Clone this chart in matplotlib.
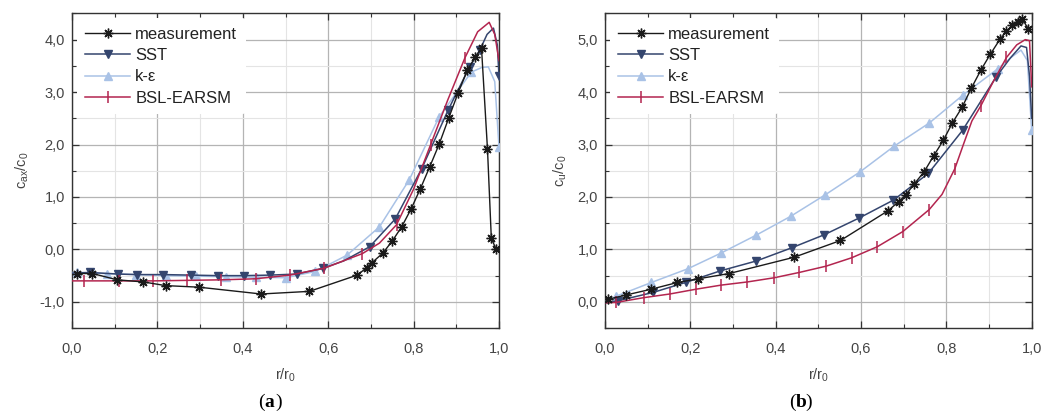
import numpy as np
import matplotlib.pyplot as plt
from matplotlib.ticker import MultipleLocator, FuncFormatter

plt.rcParams['font.family'] = ['Liberation Sans', 'DejaVu Sans']
plt.rcParams['mathtext.fontset'] = 'custom'
plt.rcParams['mathtext.rm'] = 'Liberation Sans'
plt.rcParams['mathtext.it'] = 'Liberation Sans'

######### (a) axial velocity c_ax/c_0
meas_a_x = [0.011, 0.048, 0.106, 0.167, 0.219, 0.297, 0.443, 0.556, 0.668, 0.690, 0.703, 0.728, 0.750,
            0.772, 0.794, 0.816, 0.838, 0.860, 0.882, 0.904, 0.926, 0.944, 0.959, 0.973, 0.982, 0.993]
meas_a_y = [-0.46, -0.46, -0.58, -0.62, -0.69, -0.72, -0.85, -0.80, -0.49, -0.35, -0.25, -0.07, 0.16,
            0.43, 0.77, 1.16, 1.58, 2.01, 2.50, 2.98, 3.42, 3.66, 3.84, 1.91, 0.21, 0.01]

sst_a_x = [0.0, 0.042, 0.108, 0.152, 0.214, 0.279, 0.341, 0.403, 0.464, 0.526, 0.588, 0.636, 0.697,
           0.757, 0.819, 0.881, 0.931, 0.955, 0.972, 0.987, 0.996, 1.0]
sst_a_y = [-0.45, -0.44, -0.47, -0.48, -0.48, -0.49, -0.50, -0.50, -0.49, -0.47, -0.36, -0.22, 0.05,
           0.58, 1.54, 2.66, 3.48, 3.80, 4.10, 4.22, 3.90, 3.30]
sst_a_marks = list(range(1, 11)) + [12, 13, 14, 15, 16, 17, 21]

ke_a_x = [0.0, 0.011, 0.081, 0.151, 0.22, 0.29, 0.36, 0.43, 0.50, 0.57, 0.644, 0.72, 0.79, 0.86,
          0.935, 0.96, 0.975, 0.99, 1.0]
ke_a_y = [-0.44, -0.44, -0.46, -0.48, -0.50, -0.51, -0.52, -0.53, -0.54, -0.42, -0.11, 0.43, 1.33, 2.53,
          3.38, 3.47, 3.48, 3.20, 1.95]
ke_a_marks = list(range(1, 15)) + [18]

bsl_a_x = [0.0, 0.027, 0.11, 0.19, 0.27, 0.35, 0.43, 0.51, 0.59, 0.68, 0.72, 0.76, 0.80, 0.84, 0.88,
           0.92, 0.95, 0.977, 0.99, 1.0]
bsl_a_y = [-0.60, -0.60, -0.60, -0.60, -0.59, -0.58, -0.56, -0.49, -0.36, -0.08, 0.12, 0.47, 1.15, 2.00,
           2.85, 3.65, 4.15, 4.33, 4.10, 3.60]
bsl_a_marks = list(range(1, 10)) + [11, 13, 15]

######### (b) circumferential velocity c_u/c_0
meas_b_x = [0.008, 0.049, 0.108, 0.17, 0.219, 0.291, 0.443, 0.552, 0.664, 0.688, 0.705, 0.725, 0.748,
            0.77, 0.793, 0.814, 0.837, 0.859, 0.881, 0.903, 0.926, 0.941, 0.955, 0.969, 0.978, 0.992]
meas_b_y = [0.05, 0.13, 0.24, 0.37, 0.44, 0.54, 0.85, 1.17, 1.74, 1.91, 2.04, 2.25, 2.48,
            2.78, 3.08, 3.41, 3.71, 4.08, 4.42, 4.72, 5.01, 5.16, 5.28, 5.34, 5.39, 5.21]

sst_b_x = [0.0, 0.03, 0.113, 0.189, 0.270, 0.355, 0.4375, 0.514, 0.596, 0.676, 0.758, 0.838, 0.916,
           0.95, 0.975, 0.988, 0.995, 1.0]
sst_b_y = [-0.02, 0.02, 0.18, 0.37, 0.59, 0.78, 1.03, 1.28, 1.60, 1.94, 2.45, 3.27, 4.28,
           4.65, 4.88, 4.85, 4.30, 3.50]
sst_b_marks = list(range(1, 13))

ke_b_x = [0.0, 0.027, 0.109, 0.194, 0.272, 0.354, 0.435, 0.516, 0.598, 0.678, 0.76, 0.84, 0.92,
          0.955, 0.975, 0.99, 1.0]
ke_b_y = [0.0, 0.11, 0.37, 0.63, 0.93, 1.27, 1.63, 2.04, 2.48, 2.97, 3.41, 3.95, 4.44,
          4.68, 4.80, 4.60, 3.27]
ke_b_marks = list(range(1, 13)) + [16]

bsl_b_x = [0.0, 0.027, 0.091, 0.152, 0.2125, 0.273, 0.334, 0.397, 0.455, 0.518, 0.578, 0.638, 0.698,
           0.76, 0.79, 0.82, 0.84, 0.86, 0.881, 0.91, 0.941, 0.965, 0.985, 0.995, 1.0]
bsl_b_y = [-0.02, -0.01, 0.08, 0.15, 0.24, 0.32, 0.38, 0.46, 0.56, 0.68, 0.84, 1.05, 1.34,
           1.76, 2.05, 2.54, 3.00, 3.45, 3.74, 4.20, 4.66, 4.90, 5.00, 4.98, 4.10]
bsl_b_marks = list(range(1, 14)) + [15, 18, 20]

labels = ['measurement', 'SST', 'k-\u03b5', 'BSL-EARSM']
colors = ['#1a1a1a', '#34456e', '#a9c2e6', '#b3254f']

fig = plt.figure(figsize=(10.51, 4.19), dpi=100)
ax_a = fig.add_axes([0.0685, 0.217, 0.4063, 0.751])
ax_b = fig.add_axes([0.5756, 0.217, 0.4060, 0.751])

comma = FuncFormatter(lambda v, p: ('%.1f' % v).replace('.', ','))


def draw(ax, meas, sst, ke, bsl, ylim, ylabel):
    ax.plot(meas[0], meas[1], color=colors[0], lw=1.0, marker=(8, 2, 0), ms=7, mew=1.0,
            label=labels[0], zorder=5)
    ax.plot(sst[0], sst[1], color=colors[1], lw=1.1, marker='v', ms=6, markevery=sst[2],
            label=labels[1], zorder=4)
    ax.plot(ke[0], ke[1], color=colors[2], lw=1.1, marker='^', ms=6, markevery=ke[2],
            label=labels[2], zorder=3)
    ax.plot(bsl[0], bsl[1], color=colors[3], lw=1.1, marker='|', ms=8, mew=1.1, markevery=bsl[2],
            label=labels[3], zorder=4)

    ax.set_xlim(0, 1)
    ax.set_ylim(*ylim)
    ax.xaxis.set_major_locator(MultipleLocator(0.2))
    ax.xaxis.set_minor_locator(MultipleLocator(0.1))
    ax.yaxis.set_major_locator(MultipleLocator(1.0))
    ax.yaxis.set_minor_locator(MultipleLocator(0.5))
    ax.xaxis.set_major_formatter(comma)
    ax.yaxis.set_major_formatter(comma)
    ax.tick_params(which='both', direction='in', top=True, right=True, colors='#333333',
                   labelsize=10.5, labelcolor='#444444')
    ax.tick_params(which='major', length=5, width=0.9)
    ax.tick_params(which='minor', length=3, width=0.8)
    ax.tick_params(axis='x', which='major', pad=10)
    ax.tick_params(axis='y', which='major', pad=5)
    ax.grid(which='major', color='#b4b4b4', lw=0.9)
    ax.grid(which='minor', color='#e4e4e4', lw=0.8)
    ax.set_axisbelow(True)
    for s in ax.spines.values():
        s.set_color('#333333')
        s.set_linewidth(1.0)

    ax.set_xlabel('r/r$_{0}$', fontsize=10.5, color='#444444', labelpad=8)
    ax.set_ylabel(ylabel, fontsize=10.5, color='#444444', labelpad=6)
    leg = ax.legend(loc='upper left', fontsize=12, frameon=True, framealpha=1, edgecolor='none',
                    handlelength=2.7, handletextpad=0.3, labelspacing=0.38, borderpad=0.5,
                    borderaxespad=0.3)
    leg.get_frame().set_facecolor('white')
    for t in leg.get_texts():
        t.set_color('#222222')


draw(ax_a, (meas_a_x, meas_a_y), (sst_a_x, sst_a_y, sst_a_marks), (ke_a_x, ke_a_y, ke_a_marks),
     (bsl_a_x, bsl_a_y, bsl_a_marks), (-1.5, 4.5), 'c$_{ax}$/c$_{0}$')
draw(ax_b, (meas_b_x, meas_b_y), (sst_b_x, sst_b_y, sst_b_marks), (ke_b_x, ke_b_y, ke_b_marks),
     (bsl_b_x, bsl_b_y, bsl_b_marks), (-0.5, 5.5), 'c$_{u}$/c$_{0}$')

# panel letters below each chart
for xc, letter in [(0.252, 'a'), (0.757, 'b')]:
    fig.text(xc, 0.04, '(', ha='right', va='center', fontsize=14, family='Liberation Serif')
    fig.text(xc, 0.04, letter, ha='left', va='center', fontsize=14, family='Liberation Serif',
             fontweight='bold')
    fig.text(xc + 0.0095, 0.04, ')', ha='left', va='center', fontsize=14, family='Liberation Serif')

fig.savefig('out.png', dpi=100)
